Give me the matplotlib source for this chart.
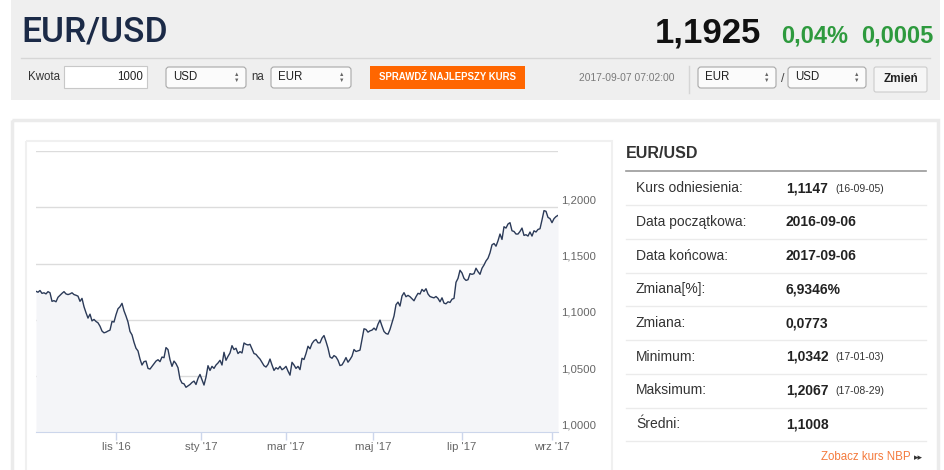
import numpy as np
import matplotlib
matplotlib.use("Agg")
import matplotlib.pyplot as plt
from matplotlib.patches import Rectangle, FancyBboxPatch

plt.rcParams['font.family'] = ['Liberation Sans', 'DejaVu Sans']

# EUR/USD closes, one per trading day, 2016-09-06 .. 2017-09-06
rates = [
    1.1253, 1.1245, 1.1260, 1.1235, 1.1240, 1.1230, 1.1250, 1.1240, 1.1164, 1.1170,
    1.1160, 1.1200, 1.1218, 1.1235, 1.1250, 1.1230, 1.1224, 1.1230, 1.1240, 1.1224,
    1.1218, 1.1210, 1.1164, 1.1190, 1.1116, 1.1063, 1.1015, 1.1050, 1.0990, 1.1003,
    1.0985, 1.0973, 1.0943, 1.0900, 1.0884, 1.0890, 1.0900, 1.0908, 1.0985, 1.0980,
    1.1045, 1.1098, 1.1116, 1.1146, 1.1080, 1.1033, 1.0980, 1.0896, 1.0866, 1.0800,
    1.0747, 1.0723, 1.0651, 1.0598, 1.0628, 1.0633, 1.0568, 1.0562, 1.0586, 1.0610,
    1.0633, 1.0645, 1.0628, 1.0669, 1.0663, 1.0753, 1.0735,
    1.0645, 1.0586, 1.0633, 1.0610, 1.0574, 1.0473, 1.0437, 1.0431, 1.0400, 1.0413,
    1.0425, 1.0443, 1.0455, 1.0425, 1.0479, 1.0514, 1.0467, 1.0420, 1.0490, 1.0592,
    1.0550, 1.0586, 1.0568, 1.0598, 1.0616, 1.0640, 1.0598, 1.0711, 1.0640, 1.0675,
    1.0705, 1.0770, 1.0735, 1.0747, 1.0700, 1.0717, 1.0705, 1.0794, 1.0782, 1.0776,
    1.0782, 1.0740, 1.0700, 1.0693, 1.0670, 1.0651, 1.0622, 1.0592, 1.0580, 1.0604,
    1.0651, 1.0598, 1.0550, 1.0574, 1.0562, 1.0586, 1.0556, 1.0568, 1.0586, 1.0544,
    1.0508, 1.0622, 1.0598, 1.0568, 1.0586,
    1.0557, 1.0658, 1.0647, 1.0700, 1.0765, 1.0742, 1.0789, 1.0813, 1.0825, 1.0795,
    1.0795, 1.0837, 1.0860, 1.0807, 1.0748, 1.0670, 1.0658, 1.0682, 1.0670, 1.0640,
    1.0593, 1.0599, 1.0629, 1.0664, 1.0623, 1.0647, 1.0676, 1.0736, 1.0718, 1.0724,
    1.0730, 1.0825, 1.0920, 1.0914, 1.0890, 1.0902, 1.0908, 1.0926, 1.0908, 1.0961,
    1.0997, 1.0944, 1.0896, 1.0878, 1.0872, 1.0914, 1.0973, 1.1033, 1.1134, 1.1157,
    1.1122, 1.1211, 1.1241, 1.1205, 1.1217, 1.1205, 1.1187, 1.1169, 1.1205, 1.1235,
    1.1229, 1.1270, 1.1252, 1.1276, 1.1229,
    1.1207, 1.1200, 1.1195, 1.1207, 1.1190, 1.1160, 1.1195, 1.1148, 1.1142, 1.1160,
    1.1154, 1.1183, 1.1190, 1.1333, 1.1368, 1.1440, 1.1416, 1.1368, 1.1350, 1.1356,
    1.1410, 1.1404, 1.1410, 1.1458, 1.1428, 1.1404, 1.1458, 1.1487, 1.1523, 1.1547,
    1.1595, 1.1666, 1.1678, 1.1654, 1.1702, 1.1762, 1.1714, 1.1827, 1.1815, 1.1851,
    1.1863, 1.1791, 1.1785, 1.1762, 1.1762, 1.1785, 1.1815, 1.1750, 1.1756, 1.1744,
    1.1780, 1.1744, 1.1791, 1.1780, 1.1803, 1.1809, 1.1887, 1.1970, 1.1964, 1.1910,
    1.1899, 1.1863, 1.1899, 1.1917, 1.1928,
]

# first trading day of each labelled month
month_idx = [40, 82.5, 125, 168.5, 213, 258]
month_labels = ["lis '16", "sty '17", "mar '17", "maj '17", "lip '17", "wrz '17"]
y_ticks = [1.00, 1.05, 1.10, 1.15, 1.20, 1.25]

# summary table on the right
row_names = ["Kurs odniesienia:", "Data początkowa:", "Data końcowa:", "Zmiana[%]:",
             "Zmiana:", "Minimum:", "Maksimum:", "Średni:"]
row_values = ["1,1147", "2016-09-06", "2017-09-06", "6,9346%", "0,0773",
              "1,0342", "1,2067", "1,1008"]
row_dates = ["(16-09-05)", "", "", "", "", "(17-01-03)", "(17-08-29)", ""]

W, H = 945, 470
fig = plt.figure(figsize=(W / 100, H / 100), dpi=100)

# page layer in pixel coordinates (y down)
bg = fig.add_axes([0, 0, 1, 1])
bg.set_xlim(0, W)
bg.set_ylim(H, 0)
bg.axis('off')

# header band
bg.add_patch(Rectangle((11, 0), 929, 100, fc='#efefef', ec='none'))
bg.plot([21, 930], [58, 58], color='#d6d6d6', lw=1)
bg.text(21, 32, "EUR/USD", fontsize=25.5, family=['Roboto', 'Liberation Sans'],
        fontweight='medium', color='#1b2a47', va='center')
bg.text(761, 33, "1,1925", fontsize=25, fontweight='bold', color='#111111',
        va='center', ha='right')
bg.text(848, 36, "0,04%", fontsize=17, fontweight='bold', color='#2e9a3e',
        va='center', ha='right')
bg.text(933, 36, "0,0005", fontsize=17, fontweight='bold', color='#2e9a3e',
        va='center', ha='right')


def select_box(x, w, label):
    bg.add_patch(FancyBboxPatch((x, 67), w, 21, boxstyle='round,pad=0,rounding_size=3',
                                fc='#fbfbfb', ec='#a8a8a8', lw=0.8))
    bg.text(x + 7, 77.5, label, fontsize=8.3, color='#222222', va='center')
    bg.text(x + w - 9, 74.5, "▲", fontsize=4, color='#666666', ha='center', va='center')
    bg.text(x + w - 9, 80.5, "▼", fontsize=4, color='#666666', ha='center', va='center')


bg.text(28, 77.5, "Kwota", fontsize=8.3, color='#333333', va='center')
bg.add_patch(Rectangle((64, 66), 83, 22, fc='white', ec='#c8c8c8', lw=0.8))
bg.text(143, 77.5, "1000", fontsize=8.3, color='#222222', va='center', ha='right')
select_box(166, 80, "USD")
bg.text(251, 77.5, "na", fontsize=8.3, color='#333333', va='center')
select_box(271, 80, "EUR")
bg.add_patch(Rectangle((370, 66), 155, 23, fc='#ff6600', ec='none'))
bg.text(447.5, 77.5, "SPRAWDŹ NAJLEPSZY KURS", fontsize=6.9, fontweight='bold',
        color='white', ha='center', va='center')
bg.text(579, 78, "2017-09-07 07:02:00", fontsize=7.4, color='#7a7a7a', va='center')
bg.plot([689, 689], [66, 93], color='#d5d5d5', lw=1)
select_box(698, 78, "EUR")
bg.text(783, 79, "/", fontsize=9, color='#444444', va='center', ha='center')
select_box(788, 78, "USD")
bg.add_patch(FancyBboxPatch((874, 67), 53, 25, boxstyle='round,pad=0,rounding_size=2',
                            fc='#f6f6f6', ec='#cccccc', lw=0.8))
bg.text(900.5, 79.5, "Zmień", fontsize=8.5, fontweight='bold', color='#222222',
        ha='center', va='center')

# content panels
bg.add_patch(Rectangle((12, 120), 926, 400, fc='none', ec='#ebebeb', lw=2.5))
bg.add_patch(Rectangle((26, 141), 586, 400, fc='none', ec='#f0f0f0', lw=1.5))

# right-hand table
bg.text(626, 154, "EUR/USD", fontsize=11.5, fontweight='bold', color='#333333', va='center')
bg.plot([626, 926], [171, 171], color='#9a9a9a', lw=1.2)
for i, name in enumerate(row_names):
    yc = 188.3 + i * 33.7
    bg.text(636, yc, name, fontsize=10, color='#333333', va='center')
    bg.text(786, yc, row_values[i], fontsize=10, fontweight='bold', color='#222222',
            va='center')
    if row_dates[i]:
        bg.text(835, yc + 0.5, row_dates[i], fontsize=7.5, color='#333333', va='center')
    bg.plot([626, 926], [yc + 17, yc + 17], color='#ebebeb', lw=1)
bg.text(911, 457, "Zobacz kurs NBP", fontsize=8.3, color='#f47a3c', va='center', ha='right')
bg.text(914, 457.5, "▸▸", fontsize=6.5, color='#333333', va='center')

# the chart itself
ax = fig.add_axes([36 / W, 1 - 432.3 / H, 522 / W, 281.3 / H])
ax.set_facecolor('none')
x = np.arange(len(rates))
ax.fill_between(x, rates, 1.0, color='#f4f5f8', lw=0)
ax.plot(x, rates, color='#2b3a58', lw=1.0)
ax.set_xlim(0, len(rates) - 1)
ax.set_ylim(1.0, 1.25)

ax.set_yticks(y_ticks)
ax.yaxis.grid(True, color='#dcdcdc', lw=1)
ax.set_axisbelow(True)
ax.tick_params(axis='y', length=0, labelleft=False)
for v in y_ticks[:-1]:
    ax.annotate(f"{v:.4f}".replace('.', ','), xy=(1, v), xycoords=('axes fraction', 'data'),
                xytext=(3, 7), textcoords='offset pixels', fontsize=8.2, color='#666666',
                va='center', ha='left', annotation_clip=False)

ax.set_xticks(month_idx, month_labels)
ax.tick_params(axis='x', length=6, width=1, color='#ccd6eb', labelsize=8.2,
               labelcolor='#666666', pad=1)
for side in ['left', 'right', 'top']:
    ax.spines[side].set_visible(False)
ax.spines['bottom'].set_color('#ccd6eb')

fig.savefig("out.png", dpi=100)
